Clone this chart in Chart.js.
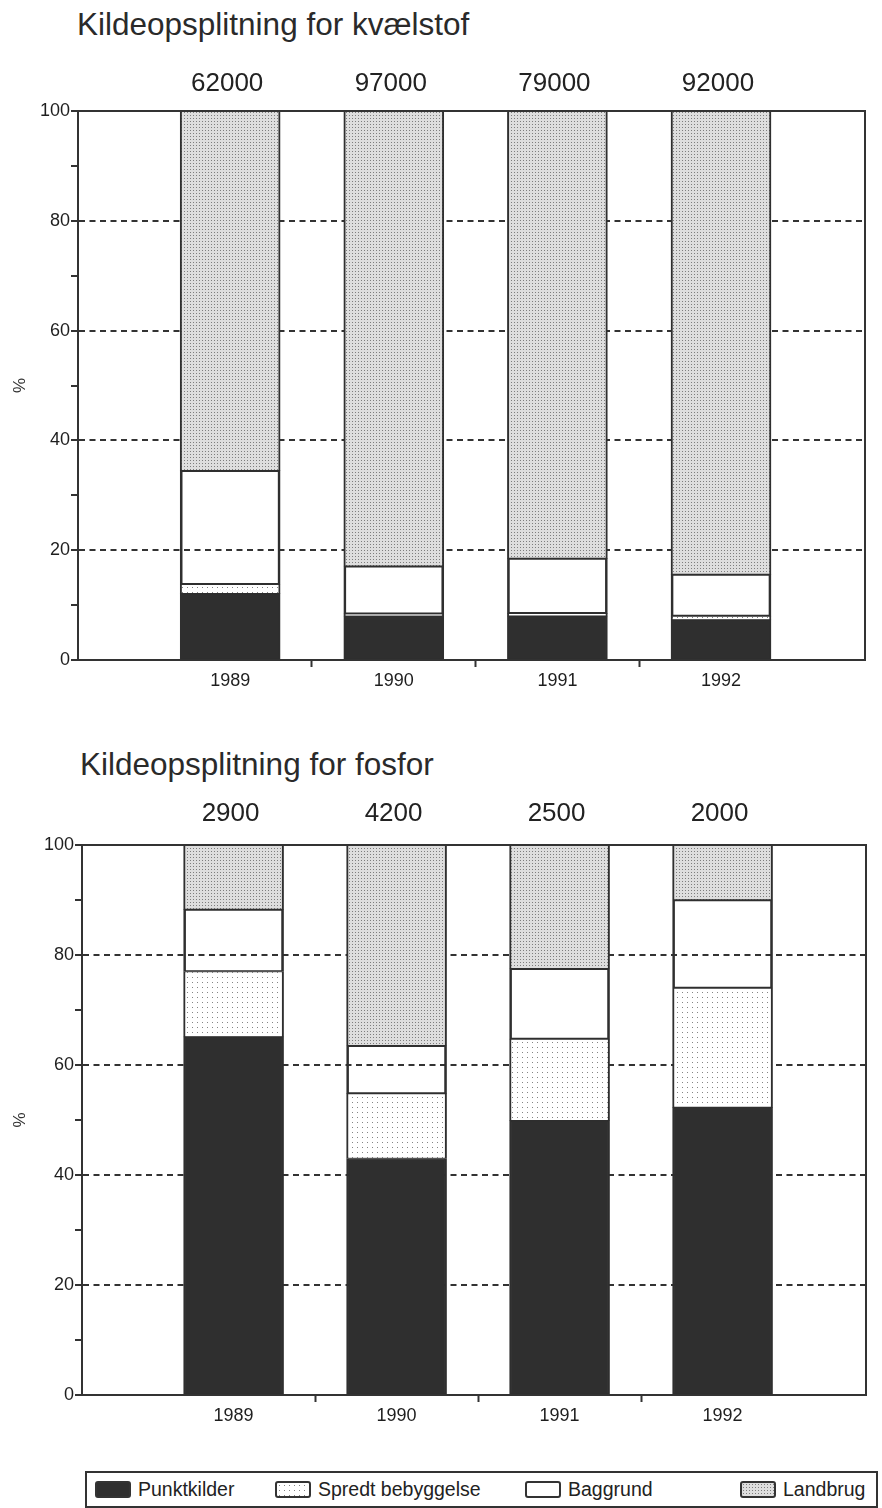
<!DOCTYPE html>
<html>
<head>
<meta charset="utf-8">
<script src="https://cdn.jsdelivr.net/npm/chart.js@4/dist/chart.umd.min.js"></script>
<style>
  html, body { margin: 0; padding: 0; background: #fff; }
  body { width: 882px; height: 1508px; position: relative; overflow: hidden;
         font-family: "Liberation Sans", Arial, sans-serif; color: #2a2a2a; }
  .title { position: absolute; font-size: 31.5px; line-height: 31px; white-space: nowrap; }
  canvas { position: absolute; left: 0; }
  #legend { position: absolute; left: 85px; top: 1471px; width: 793px; height: 37px;
            border: 2px solid #333; box-sizing: border-box; }
  .item { position: absolute; top: 0; height: 100%; display: flex; align-items: center;
          font-size: 19.5px; white-space: nowrap; color: #222; }
  .sw { width: 36px; height: 17px; border: 2px solid #333; border-radius: 3px; margin-right: 7px;
        box-sizing: border-box; }
</style>
</head>
<body>
<div class="title" style="left:77px; top:9px;">Kildeopsplitning for kvælstof</div>
<div class="title" style="left:80px; top:749px;">Kildeopsplitning for fosfor</div>
<canvas id="kvaelstof" width="882" height="705" style="top:0px;"></canvas>
<canvas id="fosfor" width="882" height="705" style="top:730px;"></canvas>
<div id="legend"></div>

<script>
// Years on the category axis
const years = [1989, 1990, 1991, 1992];

// Series names, bottom of the stack first
const seriesNames = ['Punktkilder', 'Spredt bebyggelse', 'Baggrund', 'Landbrug'];

// Nitrogen: share of the load per source (%)
const nPunktkilder = [12.1, 8.0, 8.0, 7.3];
const nSpredt      = [1.7, 0.4, 0.5, 0.7];
const nBaggrund    = [20.7, 8.7, 10.0, 7.6];
const nLandbrug    = [65.5, 82.9, 81.5, 84.4];
// Nitrogen: total load printed above each bar
const nTotals = ['62000', '97000', '79000', '92000'];

// Phosphorus: share of the load per source (%)
const pPunktkilder = [65.1, 43.0, 49.9, 52.3];
const pSpredt      = [11.9, 11.8, 14.8, 21.7];
const pBaggrund    = [11.3, 8.7, 12.8, 16.0];
const pLandbrug    = [11.7, 36.5, 22.5, 10.0];
// Phosphorus: total load printed above each bar
const pTotals = ['2900', '4200', '2500', '2000'];

// Y axis tick labels every 20 %, minor tick marks every 10 %
const yLabelStep = 20;
const yTickStep = 10;

Chart.defaults.font.family = '"Liberation Sans", Arial, sans-serif';
Chart.defaults.color = '#222';

const INK = '#2f2f2f';

// Small repeating tiles for the stippled fills
function makeTile(w, h, bg, dot, points) {
  const c = document.createElement('canvas');
  c.width = w; c.height = h;
  const g = c.getContext('2d');
  g.fillStyle = bg; g.fillRect(0, 0, w, h);
  g.fillStyle = dot;
  points.forEach(p => g.fillRect(p[0], p[1], 1, 1));
  return c;
}
const landbrugTile = makeTile(3, 3, '#dedede', '#7e7e7e', [[1, 1]]);
const spredtTile = makeTile(5, 5, '#ffffff', '#858585', [[2, 2]]);

const halfYears = years.slice(1).map((y, i) => (years[i] + y) / 2);
const xTickValues = years.concat(halfYears).sort((a, b) => a - b);

// Totals written above each stacked bar
const totalsPlugin = {
  id: 'totals',
  afterDatasetsDraw(chart, args, opts) {
    const ctx = chart.ctx;
    const meta = chart.getDatasetMeta(chart.data.datasets.length - 1);
    ctx.save();
    ctx.font = '26px "Liberation Sans", Arial, sans-serif';
    ctx.fillStyle = '#222';
    ctx.textAlign = 'center';
    ctx.textBaseline = 'middle';
    meta.data.forEach((bar, i) => {
      ctx.fillText(opts.values[i], bar.x - 3, chart.chartArea.top - opts.gap);
    });
    ctx.restore();
  }
};

// Closes the plot frame on the top and right sides
const framePlugin = {
  id: 'frame',
  afterDraw(chart) {
    const a = chart.chartArea, ctx = chart.ctx;
    ctx.save();
    ctx.strokeStyle = '#333';
    ctx.lineWidth = 2;
    ctx.beginPath();
    ctx.moveTo(a.left, a.top);
    ctx.lineTo(a.right, a.top);
    ctx.lineTo(a.right, a.bottom);
    ctx.stroke();
    ctx.restore();
  }
};

function buildChart(canvasId, series, totals, layout) {
  const canvas = document.getElementById(canvasId);
  const c2d = canvas.getContext('2d');
  const fills = [INK, c2d.createPattern(spredtTile, 'repeat'), 'rgba(0,0,0,0)', c2d.createPattern(landbrugTile, 'repeat')];
  const datasets = series.map((values, s) => ({
    label: seriesNames[s],
    data: years.map((yr, i) => ({ x: yr, y: values[i] })),
    backgroundColor: fills[s],
    borderColor: INK,
    borderWidth: { left: 2, right: 2, top: 1, bottom: 1 },
    borderSkipped: false,
    barThickness: 100
  }));
  return new Chart(canvas, {
    type: 'bar',
    data: { datasets },
    options: {
      responsive: false,
      maintainAspectRatio: false,
      animation: false,
      events: [],
      layout: { padding: { top: layout.top, right: layout.right, bottom: 0, left: 0 } },
      plugins: {
        legend: { display: false },
        tooltip: { enabled: false },
        totals: { values: totals, gap: layout.gap }
      },
      scales: {
        x: {
          type: 'linear',
          stacked: true,
          offset: false,
          min: 1988.07,
          max: 1992.88,
          afterBuildTicks: (scale) => { scale.ticks = xTickValues.map(v => ({ value: v })); },
          afterFit: (scale) => { scale.height = layout.xHeight; },
          ticks: {
            autoSkip: false, maxRotation: 0, minRotation: 0, padding: 3,
            font: { size: 18 }, color: '#1e1e1e',
            callback: (v) => years.includes(v) ? String(v) : ''
          },
          grid: {
            display: true, offset: false, drawOnChartArea: false,
            tickLength: 7, tickWidth: 2,
            tickColor: (ctx) => (ctx.tick && years.includes(ctx.tick.value)) ? 'rgba(0,0,0,0)' : '#333'
          },
          border: { display: true, color: '#333', width: 2 }
        },
        y: {
          stacked: true,
          min: 0,
          max: 100,
          afterFit: (scale) => { scale.width = layout.yWidth; },
          ticks: {
            stepSize: yTickStep, padding: 1,
            font: { size: 18 }, color: '#1e1e1e',
            callback: (v) => v % yLabelStep === 0 ? String(v) : ''
          },
          grid: {
            drawOnChartArea: true,
            lineWidth: 2,
            color: (ctx) => (ctx.tick && ctx.tick.value % yLabelStep === 0 && ctx.tick.value > 0 && ctx.tick.value < 100) ? '#333' : 'rgba(0,0,0,0)',
            tickLength: 7, tickWidth: 2, tickColor: '#333', tickBorderDash: []
          },
          border: { display: true, color: '#333', width: 2, dash: [6, 4.5] },
          title: { display: true, text: '%', font: { size: 17 }, color: '#333', padding: { top: 10, bottom: 0 } }
        }
      }
    },
    plugins: [totalsPlugin, framePlugin]
  });
}

buildChart('kvaelstof', [nPunktkilder, nSpredt, nBaggrund, nLandbrug], nTotals,
  { top: 111, right: 17, yWidth: 78, xHeight: 45, gap: 27 });
buildChart('fosfor', [pPunktkilder, pSpredt, pBaggrund, pLandbrug], pTotals,
  { top: 115, right: 16, yWidth: 82, xHeight: 40, gap: 31 });

// Legend built from the series names and the same fills
const legendEl = document.getElementById('legend');
const swatchStyles = [
  'background:' + INK + ';',
  'background-image:url(' + spredtTile.toDataURL() + ');',
  'background:#fff;',
  'background-image:url(' + landbrugTile.toDataURL() + ');'
];
const legendLeft = [8, 188, 438, 653];
seriesNames.forEach((name, i) => {
  const item = document.createElement('div');
  item.className = 'item';
  item.style.left = legendLeft[i] + 'px';
  const sw = document.createElement('div');
  sw.className = 'sw';
  sw.setAttribute('style', swatchStyles[i]);
  const label = document.createElement('span');
  label.textContent = name;
  item.appendChild(sw);
  item.appendChild(label);
  legendEl.appendChild(item);
});
</script>
</body>
</html>
